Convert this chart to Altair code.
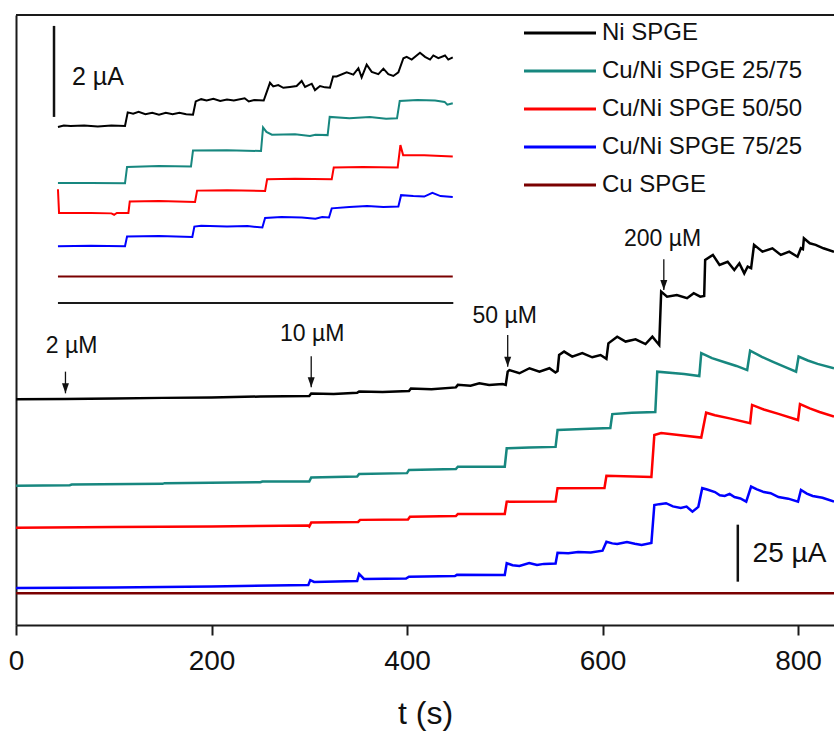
import altair as alt
import pandas as pd

FONT = "Liberation Sans"
SERIES = ["Ni SPGE", "Cu/Ni SPGE 25/75", "Cu/Ni SPGE 50/50", "Cu/Ni SPGE 75/25", "Cu SPGE"]
COLORS = ["#000000", "#17877f", "#ff0000", "#0000ff", "#7a0000"]

# ---------------- main traces: time (s) and current (µA, stacked offsets) ----------------
ni_t = [0, 50, 100, 150, 200, 250, 300, 302, 325, 349, 351, 375, 402, 404, 425, 450, 452, 465,
        474, 484, 497.7, 501, 503, 504.8, 515, 525.3, 535.5, 545.7, 551.8, 554, 555.6, 560.7, 569,
        579.3, 589.5, 598, 604, 606, 615, 623.6, 633.8, 644, 651, 658, 660, 666, 676, 686.5, 693.3,
        700, 704, 705, 712.9, 719.7, 728, 734.8, 740, 745, 748.5, 752, 755, 763.6, 773.8, 782.4,
        791, 799.5, 802.9, 805, 806, 812, 818, 826, 836.8]
ni_i = [99.0, 99.1, 99.3, 99.6, 99.8, 100.2, 100.4, 101.5, 101.3, 101.8, 102.4, 102.2, 102.6,
        103.7, 103.4, 104.2, 105.3, 104.9, 106.0, 105.3, 105.7, 105.3, 111.1, 111.8, 110.4, 112.6,
        111.1, 112.6, 110.7, 111.4, 118.4, 119.9, 117.7, 119.2, 117.4, 118.4, 116.7, 123.5, 126.4,
        124.3, 125.3, 123.2, 126.4, 122.8, 146.2, 144.0, 144.7, 143.3, 145.5, 144.0, 144.3, 160.1,
        162.3, 157.9, 159.3, 155.7, 158.6, 154.2, 157.2, 156.5, 166.7, 163.7, 165.2, 162.3, 163.7,
        161.5, 165.2, 164.8, 169.6, 167.4, 166.7, 165.2, 163.7]

cu25_t = [0, 55, 57, 150, 152, 250, 252, 300, 302, 349, 351, 400, 402, 450, 452, 500, 502, 525,
          552, 554, 580, 608, 610, 630, 654, 656, 683.5, 699, 701, 712, 725, 737, 748, 751, 763,
          775, 787, 798, 800.6, 810, 820, 836.8]
cu25_i = [61.1, 61.3, 61.6, 61.9, 62.2, 62.6, 62.9, 62.9, 64.7, 65.1, 66.2, 66.6, 68.0, 68.4,
          69.4, 69.4, 77.5, 77.8, 78.1, 85.5, 86.0, 86.4, 92.5, 93.1, 93.4, 111.1, 110.1, 109.2,
          119.2, 117.0, 115.2, 113.6, 111.8, 120.3, 117.6, 115.3, 113.1, 111.1, 117.7, 116.0,
          114.5, 112.6]

cu50_t = [0, 100, 200, 299, 300, 302, 350, 352, 401, 403, 450, 452, 500, 502, 552, 554, 602, 604,
          650, 653, 660, 680, 701, 706, 715, 730, 751, 753, 765, 780, 800, 802, 812, 822, 836.8]
cu50_i = [42.7, 43.0, 43.2, 43.6, 43.2, 44.9, 45.2, 46.1, 46.3, 47.5, 47.8, 48.7, 48.7, 54.1,
          54.2, 60.0, 60.1, 65.4, 64.9, 83.3, 84.2, 83.2, 82.2, 93.1, 92.0, 90.6, 88.5, 96.5,
          94.5, 92.6, 89.9, 96.9, 95.0, 93.4, 91.4]

cu75_t = [0, 100, 150, 200, 299, 301, 305, 349, 351, 356, 399, 402, 449, 451, 500, 502, 508, 515,
          525, 533, 540, 552, 554, 565, 575, 588, 600, 604, 610, 615, 625, 633, 640, 650, 653, 658,
          665, 672, 680, 686, 692, 698, 702, 707, 715, 720, 725, 730, 735, 741, 747, 752, 758, 765,
          772, 780, 790, 800, 803, 809, 815, 825, 836.8]
cu75_i = [16.2, 16.4, 16.7, 16.9, 17.5, 19.7, 18.9, 19.3, 22.4, 20.2, 20.4, 21.2, 21.5, 22.0,
          21.9, 27.1, 26.2, 25.9, 27.2, 26.3, 26.8, 27.0, 31.7, 31.5, 32.0, 31.8, 32.6, 36.5, 35.8,
          35.5, 36.4, 35.6, 35.1, 36.0, 52.6, 53.0, 53.4, 52.0, 51.3, 51.9, 49.7, 51.8, 60.0, 59.4,
          58.3, 56.9, 56.6, 57.5, 56.1, 55.5, 54.1, 60.7, 59.5, 58.3, 57.8, 56.1, 55.4, 54.1, 59.2,
          57.6, 56.6, 55.8, 54.1]

cu_t = [0, 300, 600, 836.8]
cu_i = [13.9, 13.9, 13.9, 13.9]

# ---------------- inset traces: first 290 s, magnified (µA) ----------------
in_ni_t = [0.7, 5, 10, 20, 30, 40, 50, 52, 56, 60, 65, 70, 75, 80, 85, 90, 95, 100, 102, 106, 110,
           115, 120, 125, 130, 138, 141, 145, 152, 156.6, 159, 162.7, 166.4, 171.3, 176.2, 179.9,
           182.4, 187.3, 189.7, 193.4, 197.1, 200.7, 203, 205.6, 213, 217.9, 221.6, 224, 227.7,
           231.4, 236.3, 240, 243.6, 247.3, 251, 254.7, 257.1, 260.8, 266.9, 270.6, 274.3, 276.7,
           280.4, 285.3, 287.7, 291]
in_ni_i = [3.87, 3.90, 3.89, 3.90, 3.88, 3.90, 3.89, 4.19, 4.16, 4.20, 4.15, 4.18, 4.14, 4.18,
           4.15, 4.18, 4.15, 4.14, 4.43, 4.48, 4.45, 4.49, 4.44, 4.47, 4.45, 4.50, 4.43, 4.46, 4.45,
           4.84, 4.76, 4.79, 4.73, 4.75, 4.77, 4.88, 4.75, 4.82, 4.68, 4.77, 4.74, 4.73, 4.98, 4.98,
           5.07, 5.02, 5.16, 4.96, 5.24, 5.08, 5.03, 5.15, 5.03, 4.99, 5.07, 5.38, 5.41, 5.35, 5.50,
           5.41, 5.35, 5.44, 5.38, 5.44, 5.35, 5.40]

in_cu25_t = [0.7, 25, 50, 51.5, 75, 98.5, 100, 125, 150, 151.5, 154, 158, 175, 186, 190, 199,
             200.5, 215, 230, 242, 250, 252, 265, 278, 285, 287, 291]
in_cu25_i = [2.64, 2.64, 2.63, 2.99, 3.01, 3.00, 3.35, 3.36, 3.34, 3.86, 3.76, 3.70, 3.71, 3.67,
             3.70, 3.69, 4.09, 4.06, 4.09, 4.05, 4.06, 4.44, 4.46, 4.45, 4.42, 4.36, 4.39]

in_cu50_t = [0.7, 1.5, 25, 40, 42, 44, 52.5, 53.5, 75, 101.5, 103, 125, 153, 154.5, 175, 202,
             203.5, 225, 250.5, 252.5, 254.5, 270, 291]
in_cu50_i = [2.50, 1.98, 1.98, 1.97, 1.94, 1.98, 1.98, 2.23, 2.24, 2.22, 2.47, 2.48, 2.46, 2.72,
             2.73, 2.72, 2.98, 2.99, 2.98, 3.47, 3.25, 3.25, 3.22]

in_cu75_t = [0.7, 25, 50, 51.5, 75, 99.5, 101, 106, 125, 140, 151, 153, 165, 180, 190, 195, 200,
             202, 215, 228, 240, 251, 253, 262, 270, 276, 282, 291]
in_cu75_i = [1.25, 1.26, 1.25, 1.46, 1.47, 1.45, 1.68, 1.70, 1.68, 1.69, 1.66, 1.87, 1.89, 1.88,
             1.85, 1.89, 1.88, 2.08, 2.11, 2.13, 2.11, 2.12, 2.37, 2.35, 2.34, 2.42, 2.35, 2.33]

in_cu_t = [0.7, 150, 291]
in_cu_i = [0.58, 0.58, 0.58]

# ---------------- annotations ----------------
arrow_lbl = ["2 µM", "10 µM", "50 µM", "200 µM"]
arrow_t = [50.6, 302, 503, 662.7]
arrow_top = [111.1, 117.9, 127.2, 160.4]
arrow_tip = [101.6, 104.3, 113.3, 146.9]
label_t = [56.8, 303, 500, 661.4]
label_i = [122.4, 127.6, 135.5, 169.3]

bar_t = [738.4]
bar_lo = [19.0]
bar_hi = [44.0]
bar_text = ["25 µA"]
bar_text_t = [753.5]
bar_text_i = [31.0]

in_bar_t = [-2.2]
in_bar_lo = [4.09]
in_bar_hi = [6.09]
in_bar_text = ["2 µA"]
in_bar_text_t = [11.0]
in_bar_text_i = [4.97]

in_base_t = [0.7]
in_base_t2 = [291.4]
in_base_i = [0.0]

X_MAX = 836.8
Y_MAX = 267.5


def frame(names, ts, vs):
    parts = [pd.DataFrame({"t": t, "i": v, "series": n}) for n, t, v in zip(names, ts, vs)]
    return pd.concat(parts, ignore_index=True)


main_df = frame(SERIES, [ni_t, cu25_t, cu50_t, cu75_t, cu_t], [ni_i, cu25_i, cu50_i, cu75_i, cu_i])
inset_df = frame(SERIES, [in_ni_t, in_cu25_t, in_cu50_t, in_cu75_t, in_cu_t],
                 [in_ni_i, in_cu25_i, in_cu50_i, in_cu75_i, in_cu_i])

arrows_df = pd.DataFrame({"t": arrow_t, "i": arrow_top, "i2": arrow_tip})
heads_df = pd.DataFrame({"t": arrow_t, "i": arrow_tip})
labels_df = pd.DataFrame({"t": label_t, "i": label_i, "txt": arrow_lbl})
bar_df = pd.DataFrame({"t": bar_t, "i": bar_lo, "i2": bar_hi})
bar_txt_df = pd.DataFrame({"t": bar_text_t, "i": bar_text_i, "txt": bar_text})
top_df = pd.DataFrame({"i": [Y_MAX]})

in_bar_df = pd.DataFrame({"t": in_bar_t, "i": in_bar_lo, "i2": in_bar_hi})
in_bar_txt_df = pd.DataFrame({"t": in_bar_text_t, "i": in_bar_text_i, "txt": in_bar_text})
in_base_df = pd.DataFrame({"t": in_base_t, "t2": in_base_t2, "i": in_base_i})

color_scale = alt.Scale(domain=SERIES, range=COLORS)

# ---------------- main panel ----------------
xs = alt.Scale(domain=[0, X_MAX], nice=False, zero=False)
ys = alt.Scale(domain=[0, Y_MAX], nice=False, zero=False)
x_axis = alt.Axis(values=[0, 200, 400, 600, 800], format="d", grid=False,
                  tickSize=10, tickWidth=2, tickColor="#1a1a1a",
                  domainWidth=2, domainColor="#1a1a1a",
                  labelFont=FONT, labelFontSize=28, labelColor="#111111",
                  labelPadding=12, labelFlush=False,
                  titleFont=FONT, titleFontSize=32, titleFontWeight="normal",
                  titleColor="#111111", titlePadding=23)
y_axis = alt.Axis(labels=False, ticks=False, grid=False, domainWidth=2, domainColor="#1a1a1a")
X = alt.X("t:Q", scale=xs, axis=x_axis, title="t (s)")
Y = alt.Y("i:Q", scale=ys, axis=y_axis, title=None)

legend = alt.Legend(title=None, orient="none", legendX=532, legendY=6,
                    symbolType="M-4,0H4", symbolSize=324, symbolStrokeWidth=3,
                    labelFont=FONT, labelFontSize=24, labelColor="#111111", labelLimit=400,
                    labelOffset=30, rowPadding=14, padding=0)

main_lines = alt.Chart(main_df).mark_line(strokeWidth=2.5).encode(
    x=X, y=Y,
    color=alt.Color("series:N", scale=color_scale, legend=legend),
    detail="series:N",
)
top_line = alt.Chart(top_df).mark_rule(color="#1a1a1a", strokeWidth=2).encode(y=Y)
arrow_rules = alt.Chart(arrows_df).mark_rule(color="#111111", strokeWidth=1.3).encode(
    x=X, y=Y, y2=alt.Y2("i2:Q"))
arrow_heads = alt.Chart(heads_df).mark_point(
    shape="M-0.7,-2L0.7,-2L0,0Z", size=100, filled=True, color="#111111", opacity=1
).encode(x=X, y=Y)
arrow_text = alt.Chart(labels_df).mark_text(
    font=FONT, fontSize=23, color="#111111", align="center", baseline="middle"
).encode(x=X, y=Y, text="txt:N")
bar_rule = alt.Chart(bar_df).mark_rule(color="#111111", strokeWidth=2.5).encode(
    x=X, y=Y, y2=alt.Y2("i2:Q"))
bar_label = alt.Chart(bar_txt_df).mark_text(
    font=FONT, fontSize=28, color="#111111", align="left", baseline="middle"
).encode(x=X, y=Y, text="txt:N")

main = alt.layer(main_lines, top_line, arrow_rules, arrow_heads, arrow_text, bar_rule, bar_label)

# ---------------- inset panel ----------------
ixs = alt.Scale(domain=[-30.15, 571.32], nice=False, zero=False)
iys = alt.Scale(domain=[-7.077, 6.330], nice=False, zero=False)
IX = alt.X("t:Q", scale=ixs, axis=None)
IY = alt.Y("i:Q", scale=iys, axis=None)

inset_lines = alt.Chart(inset_df).mark_line(strokeWidth=2).encode(
    x=IX, y=IY,
    color=alt.Color("series:N", scale=color_scale, legend=None),
    detail="series:N",
)
inset_base = alt.Chart(in_base_df).mark_rule(color="#1a1a1a", strokeWidth=2).encode(
    x=IX, x2=alt.X2("t2:Q"), y=IY)
inset_bar = alt.Chart(in_bar_df).mark_rule(color="#111111", strokeWidth=2.5).encode(
    x=IX, y=IY, y2=alt.Y2("i2:Q"))
inset_bar_txt = alt.Chart(in_bar_txt_df).mark_text(
    font=FONT, fontSize=25, color="#111111", align="left", baseline="middle"
).encode(x=IX, y=IY, text="txt:N")

inset = alt.layer(inset_lines, inset_base, inset_bar, inset_bar_txt)

chart = alt.layer(main, inset).resolve_scale(
    x="independent", y="independent"
).properties(
    width=818, height=610,
    padding={"left": 16, "top": 15, "right": 0, "bottom": 109},
    autosize=alt.AutoSizeParams(type="none"),
    background="white",
).configure_view(stroke=None)

chart.save("out.html", embed_options={"renderer": "svg", "actions": False})
